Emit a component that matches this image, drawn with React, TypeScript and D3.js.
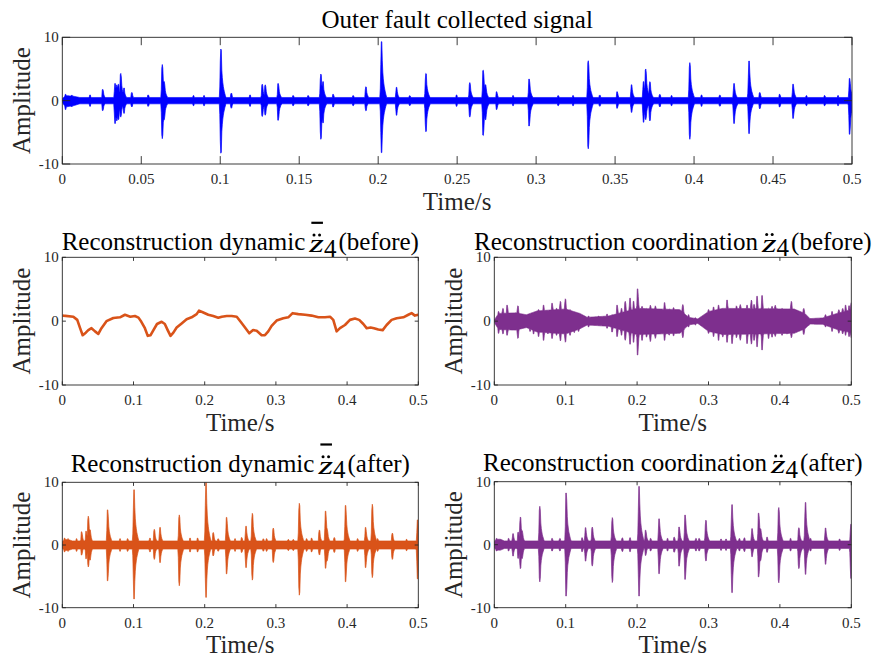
import React from "react";
import * as d3 from "d3";

const FONT = "'Liberation Serif', 'Times New Roman', Times, serif";
const AX = "#262626";
const BLUE = "#0000FF";
const ORANGE = "#D95319";
const PURPLE = "#7E2F8E";

// ---------------- data ----------------
const topXTicks = [0, 0.05, 0.1, 0.15, 0.2, 0.25, 0.3, 0.35, 0.4, 0.45, 0.5];
const topXTickLabels = ["0", "0.05", "0.1", "0.15", "0.2", "0.25", "0.3", "0.35", "0.4", "0.45", "0.5"];
const smallXTicks = [0, 0.1, 0.2, 0.3, 0.4, 0.5];
const smallXTickLabels = ["0", "0.1", "0.2", "0.3", "0.4", "0.5"];
const yTicks = [-10, 0, 10];
const yTickLabels = ["-10", "0", "10"];

// Outer fault collected signal: background noise band
const outerNoiseT = [0, 0.002, 0.007, 0.011, 0.5];
const outerNoiseHi = [0.3, 0.8, 0.7, 0.5, 0.5];
const outerNoiseLo = [-0.3, -1.0, -0.8, -0.5, -0.5];
// Outer fault collected signal: impacts (time, positive peak, negative peak)
const outerSpikeT = [0.002, 0.006, 0.0175, 0.0256, 0.0334, 0.0345, 0.0355, 0.037, 0.039, 0.044, 0.0544, 0.0633, 0.0645, 0.083, 0.0897, 0.1004, 0.107, 0.1188, 0.1266, 0.1285, 0.1367, 0.1462, 0.1557, 0.1637, 0.165, 0.1715, 0.1842, 0.1922, 0.2021, 0.2116, 0.22, 0.2302, 0.2496, 0.258, 0.2665, 0.268, 0.275, 0.2854, 0.2956, 0.314, 0.3234, 0.333, 0.3403, 0.3513, 0.3604, 0.368, 0.3694, 0.372, 0.3783, 0.3857, 0.3973, 0.4047, 0.4163, 0.4253, 0.4348, 0.4416, 0.4542, 0.4627, 0.4711, 0.4827, 0.4911, 0.4985];
const outerSpikeHi = [1.0, 0.9, 0.9, 1.8, 2.7, 2.5, 2.6, 4.3, 2.0, 1.3, 0.9, 5.7, 3.0, 0.8, 0.8, 8.15, 1.2, 0.9, 2.6, 2.5, 2.7, 0.8, 0.8, 4.2, 3.0, 1.0, 0.8, 2.2, 9.3, 2.1, 0.8, 4.3, 0.9, 2.85, 4.8, 2.5, 1.4, 0.8, 3.4, 0.8, 0.8, 6.3, 0.9, 1.4, 2.5, 3.0, 5.0, 3.0, 1.0, 0.8, 6.0, 0.9, 0.9, 2.7, 6.25, 1.3, 1.0, 2.6, 0.8, 0.8, 0.8, 3.5];
const outerSpikeLo = [-1.4, -1.0, -0.9, -1.6, -3.6, -3.2, -3.0, -2.6, -2.0, -1.0, -0.9, -6.0, -3.0, -0.8, -0.8, -8.3, -1.2, -0.9, -2.5, -2.3, -3.1, -0.8, -0.8, -6.1, -3.5, -1.0, -0.8, -1.6, -8.2, -2.3, -0.8, -4.9, -0.9, -2.6, -5.5, -3.0, -1.4, -0.8, -4.0, -0.8, -0.8, -7.6, -0.9, -1.2, -1.85, -3.4, -3.0, -3.2, -1.0, -0.8, -6.1, -0.9, -0.9, -3.6, -5.2, -1.3, -1.0, -2.8, -0.8, -0.8, -0.8, -5.3];

// Reconstruction dynamic (before): slow waveform
const dynBeforeT = [0, 0.0014, 0.0155, 0.021, 0.025, 0.0286, 0.033, 0.0365, 0.041, 0.046, 0.0506, 0.055, 0.062, 0.0717, 0.081, 0.088, 0.0955, 0.102, 0.107, 0.111, 0.116, 0.12, 0.124, 0.128, 0.133, 0.1395, 0.144, 0.148, 0.152, 0.156, 0.1606, 0.1676, 0.1746, 0.1816, 0.1887, 0.192, 0.198, 0.205, 0.212, 0.219, 0.224, 0.231, 0.238, 0.245, 0.2505, 0.2566, 0.2626, 0.268, 0.273, 0.28, 0.2846, 0.2893, 0.294, 0.301, 0.3104, 0.3174, 0.3235, 0.3315, 0.341, 0.35, 0.3596, 0.369, 0.376, 0.3806, 0.3853, 0.39, 0.397, 0.404, 0.411, 0.417, 0.4228, 0.4274, 0.433, 0.4377, 0.4438, 0.45, 0.4555, 0.4625, 0.4696, 0.479, 0.486, 0.4906, 0.4953, 0.5];
const dynBeforeV = [0.9, 0.87, 0.7, 0.2, -1.1, -2.2, -1.8, -1.4, -1.1, -1.6, -2.0, -1.1, 0, 0.5, 0.6, 1.0, 0.7, 0.8, 0.55, -0.1, -1.1, -2.3, -2.2, -1.4, -0.45, -0.1, -0.45, -1.4, -2.3, -1.8, -1.0, -0.35, 0.3, 0.6, 1.1, 1.65, 1.35, 1.0, 0.8, 0.55, 0.7, 0.8, 0.8, 0.7, -0.1, -1.0, -1.9, -1.4, -1.5, -2.2, -2.2, -1.6, -0.75, 0.1, 0.45, 0.6, 1.25, 1.1, 1.0, 0.87, 0.6, 0.6, 0.7, 0.2, -1.6, -1.1, -0.6, 0.2, 0.4, 0.2, -0.45, -1.1, -1.0, -1.1, -1.3, -1.4, -0.6, 0.2, 0.45, 0.6, 1.0, 1.25, 0.87, 1.0];

// Reconstruction coordination (before): dense core band
const coordCoreT = [0, 0.006, 0.03, 0.045, 0.06, 0.1, 0.12, 0.13, 0.16, 0.2, 0.26, 0.272, 0.285, 0.3, 0.32, 0.42, 0.435, 0.442, 0.46, 0.48, 0.5];
const coordCoreHi = [0.2, 1.2, 1.3, 1.0, 1.6, 1.9, 1.2, 0.6, 0.8, 2.0, 1.8, 0.6, 0.35, 1.5, 2.0, 1.9, 1.2, 0.4, 0.5, 1.2, 1.8];
const coordCoreLo = [-0.2, -1.3, -1.4, -1.0, -1.7, -2.0, -1.2, -0.6, -0.8, -2.1, -1.9, -0.6, -0.35, -1.6, -2.1, -1.9, -1.2, -0.45, -0.5, -1.3, -1.8];
// Reconstruction coordination (before): local peaks of the oscillation
const coordPeakT = [0.006, 0.012, 0.018, 0.025, 0.033, 0.041, 0.05, 0.055, 0.062, 0.069, 0.075, 0.081, 0.087, 0.0925, 0.0995, 0.106, 0.112, 0.118, 0.132, 0.146, 0.158, 0.165, 0.172, 0.178, 0.1834, 0.19, 0.195, 0.2007, 0.207, 0.213, 0.2185, 0.2255, 0.232, 0.2385, 0.245, 0.251, 0.264, 0.272, 0.2815, 0.2932, 0.3, 0.307, 0.314, 0.32, 0.326, 0.333, 0.339, 0.3445, 0.354, 0.36, 0.364, 0.368, 0.375, 0.384, 0.389, 0.3935, 0.403, 0.41, 0.416, 0.424, 0.4334, 0.4404, 0.452, 0.4637, 0.473, 0.4825, 0.488, 0.492, 0.497, 0.5];
const coordPeakHi = [1.5, 2.0, 2.5, 0.7, 2.4, 1.0, 1.1, 1.2, 1.8, 2.5, 1.6, 2.8, 2.0, 3.1, 3.5, 1.8, 1.4, 1.2, 0.8, 0.8, 1.1, 1.0, 2.5, 2.0, 3.1, 3.6, 3.1, 5.05, 2.3, 2.0, 2.5, 2.4, 1.8, 2.9, 1.9, 2.1, 2.6, 1.0, 0.55, 0.45, 1.8, 2.2, 2.5, 2.0, 3.3, 2.0, 2.4, 2.6, 2.5, 3.3, 2.6, 3.9, 4.0, 2.0, 2.3, 2.5, 2.0, 1.8, 3.1, 1.5, 2.0, 0.55, 0.45, 1.0, 1.5, 1.8, 2.0, 2.5, 2.4, 2.9];
const coordPeakLo = [-1.9, -2.0, -2.2, -1.4, -2.7, -1.1, -1.6, -2.0, -2.4, -3.0, -2.0, -2.7, -2.2, -3.1, -3.3, -2.2, -1.8, -1.6, -0.9, -0.7, -1.1, -1.7, -2.4, -2.2, -3.0, -3.6, -3.3, -5.3, -3.0, -2.5, -3.2, -2.7, -2.0, -3.0, -2.2, -2.3, -2.6, -0.9, -0.6, -0.5, -1.9, -2.4, -3.0, -2.5, -3.3, -3.5, -2.6, -3.0, -3.5, -3.6, -3.0, -4.0, -4.5, -2.7, -2.5, -2.4, -2.2, -2.0, -2.6, -1.7, -2.1, -0.7, -0.5, -0.9, -1.6, -1.9, -2.0, -2.2, -2.4, -2.6];

// Reconstruction dynamic (after)
const dynAfterNoiseT = [0, 0.003, 0.01, 0.014, 0.5];
const dynAfterNoiseHi = [0.5, 0.9, 0.8, 0.65, 0.65];
const dynAfterNoiseLo = [-0.5, -0.9, -0.8, -0.65, -0.65];
const dynAfterSpikeT = [0.003, 0.008, 0.02, 0.0272, 0.0335, 0.0365, 0.039, 0.0637, 0.081, 0.0918, 0.1007, 0.123, 0.1292, 0.1372, 0.1643, 0.1793, 0.19, 0.2018, 0.212, 0.219, 0.2308, 0.2425, 0.252, 0.258, 0.2669, 0.2823, 0.287, 0.2963, 0.3174, 0.3244, 0.3329, 0.3432, 0.3502, 0.361, 0.3698, 0.372, 0.382, 0.3979, 0.4148, 0.426, 0.4354, 0.4429, 0.4635, 0.4836, 0.499];
const dynAfterSpikeHi = [1.1, 1.0, 1.0, 2.1, 2.2, 4.6, 2.4, 5.6, 1.0, 1.0, 8.8, 1.1, 2.5, 2.8, 4.8, 1.1, 1.1, 9.95, 2.0, 1.0, 4.4, 1.0, 1.2, 3.0, 5.05, 1.0, 1.0, 2.7, 0.9, 0.9, 6.65, 1.0, 1.1, 2.4, 5.4, 2.5, 1.2, 6.3, 1.0, 2.8, 6.5, 1.0, 1.9, 0.9, 4.0];
const dynAfterSpikeLo = [-1.1, -1.0, -1.0, -1.6, -2.2, -3.5, -2.4, -5.7, -1.0, -1.0, -8.6, -1.1, -2.3, -2.8, -6.5, -1.1, -1.1, -8.35, -1.75, -1.0, -4.6, -1.0, -1.2, -3.6, -5.6, -1.0, -1.0, -2.8, -0.9, -0.9, -8.0, -1.0, -1.1, -1.6, -3.7, -2.5, -1.2, -5.85, -1.0, -3.6, -5.2, -1.0, -2.3, -0.9, -5.4];

// Reconstruction coordination (after)
const coordAfterNoiseT = [0, 0.003, 0.01, 0.014, 0.5];
const coordAfterNoiseHi = [0.5, 0.9, 0.8, 0.6, 0.6];
const coordAfterNoiseLo = [-0.5, -0.9, -0.8, -0.6, -0.6];
const coordAfterSpikeT = [0.003, 0.008, 0.02, 0.0262, 0.0335, 0.0365, 0.039, 0.0637, 0.081, 0.0918, 0.1007, 0.123, 0.1278, 0.1372, 0.1653, 0.1793, 0.19, 0.2027, 0.212, 0.219, 0.2308, 0.2425, 0.252, 0.2589, 0.2673, 0.2823, 0.287, 0.2963, 0.3174, 0.3244, 0.3329, 0.3432, 0.3502, 0.361, 0.3703, 0.373, 0.382, 0.3984, 0.4148, 0.4265, 0.4358, 0.4429, 0.4639, 0.4836, 0.4995];
const coordAfterSpikeHi = [1.0, 0.9, 1.0, 1.75, 2.0, 4.4, 2.2, 6.1, 1.0, 1.0, 8.2, 1.1, 2.7, 2.8, 4.3, 1.1, 1.1, 9.25, 2.3, 1.0, 4.1, 1.0, 1.2, 2.8, 4.7, 1.0, 1.0, 3.9, 0.9, 0.9, 6.35, 1.0, 1.1, 2.55, 5.0, 2.5, 1.2, 5.9, 1.0, 2.7, 6.7, 1.0, 2.65, 0.9, 3.25];
const coordAfterSpikeLo = [-1.0, -0.9, -1.0, -1.8, -2.2, -3.8, -2.2, -5.9, -1.0, -1.0, -8.15, -1.1, -2.6, -3.4, -6.0, -1.1, -1.1, -8.15, -1.7, -1.0, -4.6, -1.0, -1.2, -3.4, -5.5, -1.0, -1.0, -2.6, -0.9, -0.9, -7.6, -1.0, -1.1, -1.9, -5.1, -2.5, -1.2, -6.05, -1.0, -3.8, -4.7, -1.0, -3.1, -0.9, -5.35];

// ---------------- layout ----------------
type Box = { x0: number; x1: number; y0: number; y1: number };
const boxTop: Box = { x0: 62.3, x1: 852, y0: 37.3, y1: 164 };
const boxML: Box = { x0: 62.3, x1: 418.3, y0: 257.3, y1: 385 };
const boxMR: Box = { x0: 494.3, x1: 851.3, y0: 257.3, y1: 385 };
const boxBL: Box = { x0: 62.3, x1: 418.3, y0: 482.3, y1: 607.7 };
const boxBR: Box = { x0: 494.3, x1: 851.3, y0: 481.7, y1: 607.7 };

// impact mark shape (pixel offsets from impact time, fraction of peak)
const TPL_DX = [-1.6, -0.9, -0.4, 0.4, 0.9, 1.6, 2.6, 4, 6];
const TPL_F = [0, 0.35, 1, 1, 0.6, 0.4, 0.25, 0.13, 0];
const tpl = d3.scaleLinear().domain(TPL_DX).range(TPL_F).clamp(true);

let _ctx: CanvasRenderingContext2D | null = null;
function measure(text: string, font: string) {
  if (!_ctx) _ctx = document.createElement("canvas").getContext("2d");
  if (!_ctx) return text.length * 10;
  _ctx.font = font;
  return _ctx.measureText(text).width;
}

function scales(b: Box) {
  const x = d3.scaleLinear().domain([0, 0.5]).range([b.x0, b.x1]);
  const y = d3.scaleLinear().domain([-10, 10]).range([b.y1, b.y0]);
  return { x, y };
}

type EP = { px: number; hi: number; lo: number };
function spikeEnvelope(b: Box, nT: number[], nHi: number[], nLo: number[], sT: number[], sHi: number[], sLo: number[]) {
  const { x } = scales(b);
  const hiS = d3.scaleLinear().domain(nT).range(nHi).clamp(true);
  const loS = d3.scaleLinear().domain(nT).range(nLo).clamp(true);
  const sx = sT.map((t) => x(t));
  const pts: EP[] = [];
  for (let px = b.x0; px <= b.x1 + 1e-6; px += 0.5) {
    const t = x.invert(px);
    let hi = hiS(t), lo = loS(t);
    for (let i = 0; i < sx.length; i++) {
      const dx = px - sx[i];
      if (dx < TPL_DX[0] || dx > TPL_DX[TPL_DX.length - 1]) continue;
      const f = tpl(dx);
      hi = Math.max(hi, sHi[i] * f);
      lo = Math.min(lo, sLo[i] * f);
    }
    pts.push({ px, hi, lo });
  }
  return pts;
}

function Axes({ b, id, xt, xl, tickLen, children }: { b: Box; id: string; xt: number[]; xl: string[]; tickLen: number; children?: React.ReactNode }) {
  const { x, y } = scales(b);
  return (
    <g>
      <defs>
        <clipPath id={id}>
          <rect x={b.x0} y={b.y0} width={b.x1 - b.x0} height={b.y1 - b.y0} />
        </clipPath>
      </defs>
      <g clipPath={`url(#${id})`}>{children}</g>
      <rect x={b.x0} y={b.y0} width={b.x1 - b.x0} height={b.y1 - b.y0} fill="none" stroke={AX} strokeWidth={0.9} />
      {xt.map((t, i) => (
        <g key={"x" + i}>
          <line x1={x(t)} x2={x(t)} y1={b.y1} y2={b.y1 - tickLen} stroke={AX} strokeWidth={0.9} />
          <line x1={x(t)} x2={x(t)} y1={b.y0} y2={b.y0 + tickLen} stroke={AX} strokeWidth={0.9} />
          <text x={x(t)} y={b.y1 + 20} textAnchor="middle" fontSize={15} fill={AX} fontFamily={FONT}>{xl[i]}</text>
        </g>
      ))}
      {yTicks.map((v, i) => (
        <g key={"y" + i}>
          <line x1={b.x0} x2={b.x0 + tickLen} y1={y(v)} y2={y(v)} stroke={AX} strokeWidth={0.9} />
          <line x1={b.x1} x2={b.x1 - tickLen} y1={y(v)} y2={y(v)} stroke={AX} strokeWidth={0.9} />
          <text x={b.x0 - 3.5} y={y(v) + 5} textAnchor="end" fontSize={15} fill={AX} fontFamily={FONT}>{yTickLabels[i]}</text>
        </g>
      ))}
      <text transform={`translate(${b.x0 - 32},${(b.y0 + b.y1) / 2}) rotate(-90)`} textAnchor="middle" fontSize={25} fill={AX} fontFamily={FONT}>Amplitude</text>
    </g>
  );
}

function EnvArea({ b, pts, color }: { b: Box; pts: EP[]; color: string }) {
  const { y } = scales(b);
  const a = d3.area<EP>().x((d) => d.px).y0((d) => y(d.lo)).y1((d) => y(d.hi));
  return <path d={a(pts) || ""} fill={color} stroke={color} strokeWidth={0.7} strokeLinejoin="round" />;
}

function MathTitle({ cx, yb, main, suffix, bar }: { cx: number; yb: number; main: string; suffix: string; bar: boolean }) {
  const f25 = `25px 'Liberation Serif'`;
  const wMain = measure(main, f25);
  const zScale = 1.5;
  const wz = measure("z", `italic 25px 'Liberation Serif'`) * zScale;
  const w4 = measure("4", f25);
  const wSuf = measure(suffix, f25);
  const gap = 4;
  const total = wMain + gap + wz + w4 + 2 + wSuf;
  const x0 = cx - total / 2;
  const zx = x0 + wMain + gap;
  const fx = zx + wz;
  const sx = fx + w4 + 2;
  return (
    <g fill="#000" fontFamily={FONT}>
      <text x={x0} y={yb} fontSize={25}>{main}</text>
      <text transform={`translate(${zx},${yb + 2}) scale(${zScale},1)`} fontSize={25} fontStyle="italic">z</text>
      <circle cx={zx + wz * 0.32} cy={yb - 15} r={1.5} />
      <circle cx={zx + wz * 0.7} cy={yb - 15} r={1.5} />
      {bar && <line x1={zx + 2} x2={zx + wz - 1} y1={yb - 27.2} y2={yb - 27.2} stroke="#000" strokeWidth={2.2} />}
      <text x={fx} y={yb + 6.7} fontSize={25}>4</text>
      <text x={sx} y={yb} fontSize={25}>{suffix}</text>
    </g>
  );
}

export default function App() {
  const topPts = spikeEnvelope(boxTop, outerNoiseT, outerNoiseHi, outerNoiseLo, outerSpikeT, outerSpikeHi, outerSpikeLo);
  const mrPts = spikeEnvelope(boxMR, coordCoreT, coordCoreHi, coordCoreLo, coordPeakT, coordPeakHi, coordPeakLo);
  const blPts = spikeEnvelope(boxBL, dynAfterNoiseT, dynAfterNoiseHi, dynAfterNoiseLo, dynAfterSpikeT, dynAfterSpikeHi, dynAfterSpikeLo);
  const brPts = spikeEnvelope(boxBR, coordAfterNoiseT, coordAfterNoiseHi, coordAfterNoiseLo, coordAfterSpikeT, coordAfterSpikeHi, coordAfterSpikeLo);

  const ml = scales(boxML);
  const dynLine = d3.line<number>().x((_, i) => ml.x(dynBeforeT[i])).y((v) => ml.y(v))(dynBeforeV) || "";

  return (
    <svg width={877} height={661} style={{ position: "absolute", left: 0, top: 0, background: "#fff" }} fontFamily={FONT}>
      <rect width={877} height={661} fill="#fff" />
      {/* top panel */}
      <text x={(boxTop.x0 + boxTop.x1) / 2} y={28.3} textAnchor="middle" fontSize={25} fill="#000">Outer fault collected signal</text>
      <Axes b={boxTop} id="cTop" xt={topXTicks} xl={topXTickLabels} tickLen={7.9}>
        <EnvArea b={boxTop} pts={topPts} color={BLUE} />
      </Axes>
      <text x={(boxTop.x0 + boxTop.x1) / 2} y={210} textAnchor="middle" fontSize={25} fill={AX}>Time/s</text>

      {/* middle left */}
      <MathTitle cx={(boxML.x0 + boxML.x1) / 2} yb={250} main="Reconstruction dynamic" suffix="(before)" bar={true} />
      <Axes b={boxML} id="cML" xt={smallXTicks} xl={smallXTickLabels} tickLen={3.6}>
        <path d={dynLine} fill="none" stroke={ORANGE} strokeWidth={2.6} strokeLinejoin="round" />
      </Axes>
      <text x={(boxML.x0 + boxML.x1) / 2} y={430.5} textAnchor="middle" fontSize={25} fill={AX}>Time/s</text>

      {/* middle right */}
      <MathTitle cx={(boxMR.x0 + boxMR.x1) / 2} yb={249.5} main="Reconstruction coordination" suffix="(before)" bar={false} />
      <Axes b={boxMR} id="cMR" xt={smallXTicks} xl={smallXTickLabels} tickLen={3.6}>
        <EnvArea b={boxMR} pts={mrPts} color={PURPLE} />
      </Axes>
      <text x={(boxMR.x0 + boxMR.x1) / 2} y={430.5} textAnchor="middle" fontSize={25} fill={AX}>Time/s</text>

      {/* bottom left */}
      <MathTitle cx={(boxBL.x0 + boxBL.x1) / 2} yb={471.7} main="Reconstruction dynamic" suffix="(after)" bar={true} />
      <Axes b={boxBL} id="cBL" xt={smallXTicks} xl={smallXTickLabels} tickLen={3.6}>
        <EnvArea b={boxBL} pts={blPts} color={ORANGE} />
      </Axes>
      <text x={(boxBL.x0 + boxBL.x1) / 2} y={653} textAnchor="middle" fontSize={25} fill={AX}>Time/s</text>

      {/* bottom right */}
      <MathTitle cx={(boxBR.x0 + boxBR.x1) / 2} yb={471} main="Reconstruction coordination" suffix="(after)" bar={false} />
      <Axes b={boxBR} id="cBR" xt={smallXTicks} xl={smallXTickLabels} tickLen={3.6}>
        <EnvArea b={boxBR} pts={brPts} color={PURPLE} />
      </Axes>
      <text x={(boxBR.x0 + boxBR.x1) / 2} y={653} textAnchor="middle" fontSize={25} fill={AX}>Time/s</text>
    </svg>
  );
}
